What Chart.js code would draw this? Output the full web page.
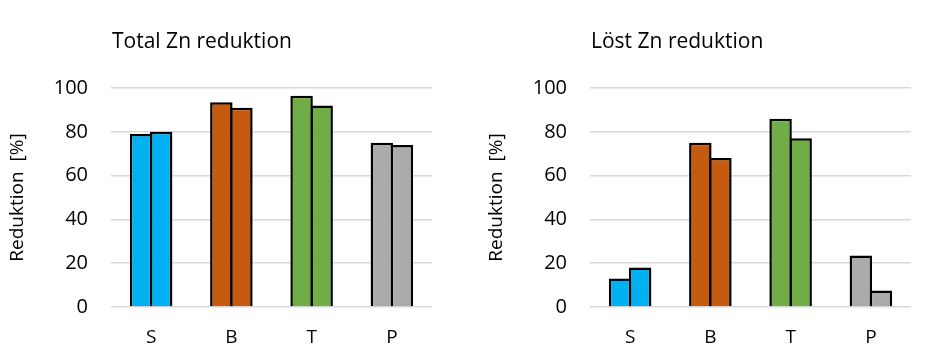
<!DOCTYPE html>
<html>
<head>
<meta charset="utf-8">
<script src="https://cdn.jsdelivr.net/npm/chart.js@4"></script>
<style>
html,body{margin:0;padding:0;background:#fff;width:940px;height:357px;overflow:hidden;}
.box{position:absolute;top:0;width:461px;height:357px;}
</style>
</head>
<body>
<div class="box" style="left:0"><canvas id="c1" width="461" height="357"></canvas></div>
<div class="box" style="left:479px"><canvas id="c2" width="461" height="357"></canvas></div>
<script>
const categories = ['S', 'B', 'T', 'P'];
const yTicks = [0, 20, 40, 60, 80, 100];
const totalZnFirst = [79, 93.5, 96.5, 75];
const totalZnSecond = [80, 91, 92, 74];
const loestZnFirst = [13, 75, 86, 23.5];
const loestZnSecond = [18, 68, 77, 7.5];
const categoryColors = ['#00B0F0', '#C55A11', '#70AD47', '#ABABAB'];
const panelTitles = ['Total Zn reduktion', 'Löst Zn reduktion'];
const yAxisTitle = 'Reduktion  [%]';

const FONT = '"Open Sans", sans-serif';

const titlePlugin = {
  id: 'panelTitle',
  afterDraw(chart, args, opts) {
    const ctx = chart.ctx;
    ctx.save();
    ctx.font = '21px ' + FONT;
    ctx.fillStyle = '#000';
    ctx.textBaseline = 'alphabetic';
    ctx.textAlign = 'left';
    ctx.fillText(opts.text, chart.chartArea.left + 1, 48);
    ctx.restore();
  }
};

function makeChart(id, title, a, b) {
  const ds = (data) => ({
    data: data,
    backgroundColor: categoryColors,
    borderColor: '#000',
    borderWidth: 2.5,
    borderSkipped: 'bottom',
    inflateAmount: 0,
    categoryPercentage: 0.5,
    barPercentage: 1.12
  });
  return new Chart(document.getElementById(id), {
    type: 'bar',
    data: { labels: categories, datasets: [ds(a), ds(b)] },
    plugins: [titlePlugin],
    options: {
      responsive: false,
      animation: false,
      devicePixelRatio: 1,
      layout: { padding: { top: 88, left: 0, right: 29, bottom: 0 } },
      plugins: {
        legend: { display: false },
        tooltip: { enabled: false },
        panelTitle: { text: title }
      },
      scales: {
        x: {
          grid: { display: false, drawTicks: false },
          border: { display: false },
          ticks: { color: '#000', font: { family: FONT, size: 19 }, padding: 19 },
          afterFit(scale) { scale.height = 50; }
        },
        y: {
          min: 0, max: 100,
          afterBuildTicks(scale) { scale.ticks = yTicks.map(v => ({ value: v })); },
          grid: { color: '#D9D9D9', lineWidth: 1.5, drawTicks: false },
          border: { display: false },
          ticks: { color: '#000', font: { family: FONT, size: 20 }, padding: 23 },
          title: { display: true, text: yAxisTitle, color: '#000', font: { family: FONT, size: 19 }, padding: { top: 6, bottom: 0 } },
          afterFit(scale) { scale.width = 111; }
        }
      }
    }
  });
}

makeChart('c1', panelTitles[0], totalZnFirst, totalZnSecond);
makeChart('c2', panelTitles[1], loestZnFirst, loestZnSecond);
</script>
</body>
</html>
